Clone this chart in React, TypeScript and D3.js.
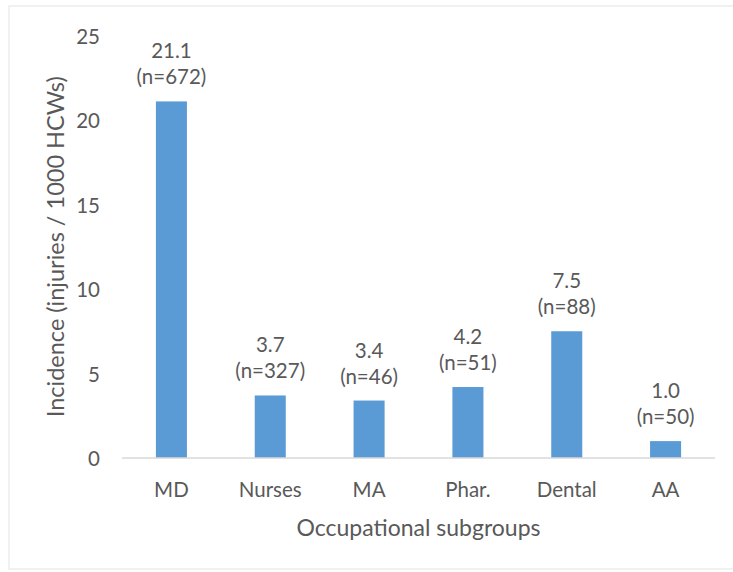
import * as d3 from 'd3';
import React from 'react';

const categories = ['MD', 'Nurses', 'MA', 'Phar.', 'Dental', 'AA'];
const incidence = [21.1, 3.7, 3.4, 4.2, 7.5, 1.0];
const counts = [672, 327, 46, 51, 88, 50];
const yTicks = [0, 5, 10, 15, 20, 25];

const width = 733;
const height = 572;
const margin = { top: 35.5, right: 18, bottom: 114, left: 122 };

const font = 'Lato, "Open Sans", sans-serif';
const textColor = '#595959';

function App() {
  const x = d3
    .scaleBand<string>()
    .domain(categories)
    .range([margin.left, width - margin.right])
    .paddingInner(0.686)
    .paddingOuter(0.343);

  const y = d3
    .scaleLinear()
    .domain([0, 25])
    .range([height - margin.bottom, margin.top]);

  const x0 = margin.left;
  const x1 = width - margin.right;
  const base = y(0);

  return (
    <svg width={width} height={height} style={{ position: 'absolute', left: 0, top: 0 }}>
      <rect x={0} y={0} width={width} height={height} fill="#fff" />
      <rect x={9} y={6} width={width + 20} height={563} fill="none" stroke="#e3e3e3" strokeWidth={1} />
      <g fontFamily={font} fill={textColor}>
        {yTicks.map((t) => (
          <text key={t} x={100} y={y(t)} textAnchor="end" dominantBaseline="central" fontSize={20.5}>
            {t}
          </text>
        ))}
        {categories.map((c, i) => {
          const bx = x(c) as number;
          const cx = bx + x.bandwidth() / 2;
          const top = y(incidence[i]);
          return (
            <g key={c}>
              <rect x={bx} y={top} width={x.bandwidth()} height={base - top} fill="#5b9bd5" />
              <text x={cx} y={top - 51} textAnchor="middle" dominantBaseline="central" fontSize={20.5}>
                {incidence[i].toFixed(1)}
              </text>
              <text x={cx} y={top - 25} textAnchor="middle" dominantBaseline="central" fontSize={20.5}>
                {`(n=${counts[i]})`}
              </text>
              <text x={cx} y={489} textAnchor="middle" dominantBaseline="central" fontSize={20.5}>
                {c}
              </text>
            </g>
          );
        })}
        <line x1={x0} x2={x1} y1={base} y2={base} stroke="#d9d9d9" strokeWidth={1.3} />
        <text
          x={(x0 + x1) / 2}
          y={527}
          textAnchor="middle"
          dominantBaseline="central"
          fontSize={23}
        >
          Occupational subgroups
        </text>
        <text
          transform={`translate(55, ${(margin.top + base) / 2}) rotate(-90)`}
          textAnchor="middle"
          dominantBaseline="central"
          fontSize={23.5}
        >
          Incidence (injuries / 1000 HCWs)
        </text>
      </g>
    </svg>
  );
}

export default App;
